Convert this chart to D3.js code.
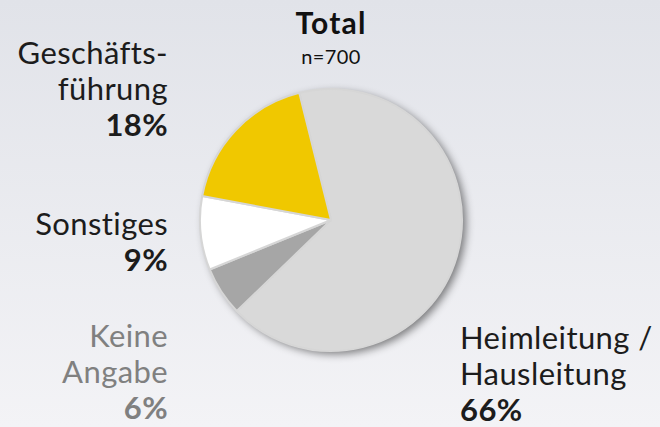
<!DOCTYPE html>
<html>
<head>
<meta charset="utf-8">
<script src="https://cdn.jsdelivr.net/npm/d3@7"></script>
<style>
  html, body { margin: 0; padding: 0; }
  body { width: 660px; height: 427px; overflow: hidden; }
  svg { display: block; }
  text { font-family: Lato, "DejaVu Sans Condensed", sans-serif; }
</style>
</head>
<body>
<svg id="chart" width="660" height="427"></svg>
<script>
// Job position of respondents (share in %), total sample
const categories = ["Heimleitung / Hausleitung", "Keine Angabe", "Sonstiges", "Geschäftsführung"];
const values = [66, 6, 9, 18];
const colors = ["#d9d9d9", "#a6a6a6", "#ffffff", "#f0c800"];
const title = "Total";
const subtitle = "n=700";

// Label lines, per slice
const labelLines = [
  ["Heimleitung /", "Hausleitung"],
  ["Keine", "Angabe"],
  ["Sonstiges"],
  ["Geschäfts-", "führung"]
];

const W = 660, H = 427;
const svg = d3.select("#chart");
const defs = svg.append("defs");

// Soft background wash
const bg = defs.append("linearGradient").attr("id", "bg")
  .attr("x1", 0).attr("y1", 0).attr("x2", 0).attr("y2", 1);
bg.append("stop").attr("offset", 0).attr("stop-color", "#e1e3e9");
bg.append("stop").attr("offset", 1).attr("stop-color", "#f3f3f6");
svg.append("rect").attr("width", W).attr("height", H).attr("fill", "url(#bg)");

// Drop shadow under the pie
const sh = defs.append("filter").attr("id", "shadow")
  .attr("x", "-20%").attr("y", "-20%").attr("width", "140%").attr("height", "140%");
sh.append("feGaussianBlur").attr("in", "SourceAlpha").attr("stdDeviation", 4).attr("result", "b");
sh.append("feOffset").attr("in", "b").attr("dx", 4).attr("dy", 3).attr("result", "o");
sh.append("feComponentTransfer").attr("in", "o").attr("result", "s")
  .append("feFuncA").attr("type", "linear").attr("slope", 0.5);
const m = sh.append("feMerge");
m.append("feMergeNode").attr("in", "s");
m.append("feMergeNode").attr("in", "SourceGraphic");

const cx = 331, cy = 220, r = 131;
const start = -14 * Math.PI / 180;

const pie = d3.pie().sort(null).value(d => d)
  .startAngle(start).endAngle(start + 2 * Math.PI);
const arc = d3.arc().innerRadius(0).outerRadius(r);
const arcs = pie(values);

const g = svg.append("g").attr("transform", `translate(${cx},${cy})`);
g.append("circle").attr("r", r).attr("fill", "#d9d9d9").attr("filter", "url(#shadow)");
g.selectAll("path.slice").data(arcs).join("path")
  .attr("class", "slice")
  .attr("d", arc)
  .attr("fill", (d, i) => colors[i])
  .attr("stroke", "#d6d6d6")
  .attr("stroke-width", 2)
  .attr("stroke-linejoin", "round");

// Title
svg.append("text").attr("x", cx).attr("y", 34).attr("text-anchor", "middle")
  .attr("font-size", 30).attr("letter-spacing", 1.2).attr("font-weight", "bold")
  .attr("fill", "#111").text(title);
svg.append("text").attr("x", cx).attr("y", 64).attr("text-anchor", "middle")
  .attr("font-size", 20).attr("letter-spacing", 0.4).attr("fill", "#111").text(subtitle);

// Slice labels
const fmt = v => v + "%";
const labelPos = [
  { x: 460, y: 349, anchor: "start", color: "#1c1c1c" },
  { x: 168, y: 347, anchor: "end", color: "#808080" },
  { x: 168, y: 235, anchor: "end", color: "#1c1c1c" },
  { x: 168, y: 64, anchor: "end", color: "#1c1c1c" }
];
const lh = 36;
arcs.forEach((a, i) => {
  const p = labelPos[i];
  const t = svg.append("text").attr("x", p.x).attr("y", p.y)
    .attr("text-anchor", p.anchor).attr("font-size", 31)
    .attr("letter-spacing", 0.4).attr("fill", p.color);
  labelLines[i].forEach((ln, k) => {
    t.append("tspan").attr("x", p.x).attr("y", p.y + k * lh).text(ln);
  });
  t.append("tspan").attr("x", p.x).attr("y", p.y + labelLines[i].length * lh)
    .attr("font-weight", "bold").text(fmt(a.data));
});
</script>
</body>
</html>
